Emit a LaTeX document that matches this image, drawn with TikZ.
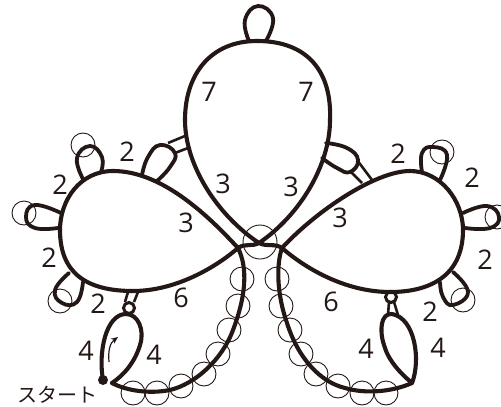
\documentclass[tikz,border=0pt]{standalone}
\usepackage{fontspec}
\setmainfont{Open Sans}
\newfontfamily\cjkfont{Noto Sans CJK JP}
\usetikzlibrary{arrows.meta}
\definecolor{threadcol}{HTML}{231815}
\begin{document}
\begin{tikzpicture}[
  x=1pt,y=-1pt,
  thread/.style={draw=threadcol,line width=4.1pt,line cap=round,line join=round},
  picot/.style={thread,line width=3.8pt},
  stem/.style={draw=threadcol,line width=2.6pt},
  bead/.style={circle,draw=threadcol,line width=0.9pt,minimum size=24pt,inner sep=0pt},
  count/.style={text=threadcol,inner sep=0pt,font=\fontsize{27}{27}\selectfont}]
\useasboundingbox (0,0) rectangle (501,407);
% beads
\foreach \x/\y [count=\i] in {133/393,157/393,181/386,204/374,218/354,229/330,238/306,242/279,
  277/279,281/306,290/330,301/354,316/374,338/386,362/393,386/393,
  83/145,24/213,60/301,442/152,497/217,463/300}
  \node[bead] (bead\i) at (\x,\y) {};
\node[bead,minimum size=34pt] (centre) at (260,242) {};
% main thread
\draw[thread] (112,383) .. controls (127,391) and (150,394) .. (170,390)
  .. controls (195,384) and (222,360) .. (233,330)
  .. controls (246,296) and (248,268) .. (238,248)
  .. controls (205,212) and (160,171) .. (113,171)
  .. controls (80,171) and (60,200) .. (60,230)
  .. controls (60,272) and (85,291) .. (133,291)
  .. controls (175,291) and (215,268) .. (238,248)
  .. controls (245,243) and (252,247) .. (259,243)
  .. controls (300,215) and (330,165) .. (330,120)
  .. controls (332,72) and (308,41) .. (257,41)
  .. controls (210,41) and (185,75) .. (185,120)
  .. controls (185,165) and (217,215) .. (259,243)
  .. controls (266,247) and (275,243) .. (282,248)
  .. controls (305,268) and (345,292) .. (390,292)
  .. controls (435,292) and (463,272) .. (463,230)
  .. controls (463,200) and (440,171) .. (410,171)
  .. controls (375,171) and (315,212) .. (282,248)
  .. controls (276,265) and (277,295) .. (287,323)
  .. controls (298,358) and (320,382) .. (345,388)
  .. controls (365,394) and (392,392) .. (412,383);
% rings at the start and the end
\draw[thread] (103,380) .. controls (98,352) and (106,314) .. (126,314)
  .. controls (138,314) and (145,330) .. (140,345)
  .. controls (135,362) and (124,375) .. (112,383);
\draw[thread] (412,383) .. controls (421,360) and (415,318) .. (392,314)
  .. controls (381,313) and (379,330) .. (384,345)
  .. controls (388,360) and (400,373) .. (412,383);
\node[circle,fill=threadcol,minimum size=10pt,inner sep=0pt] (startdot) at (103,380) {};
% picots
\draw[picot] plot[smooth,tension=0.8] coordinates {(249,41) (245,20) (258,6) (273,18) (266,41)};
\draw[picot] plot[smooth,tension=0.8] coordinates {(142,175) (148,157) (160,145) (175,153) (170,167) (157,181)};
\draw[picot] plot[smooth,tension=0.8] coordinates {(83,179) (77,158) (90,146) (102,157) (101,172)};
\draw[picot] plot[smooth,tension=0.8] coordinates {(61,213) (35,205) (26,217) (35,228) (58,228)};
\draw[picot] plot[smooth,tension=0.8] coordinates {(69,273) (55,290) (62,303) (77,302) (83,282)};
\draw[picot] plot[smooth,tension=0.8] coordinates {(326,143) (347,148) (358,160) (350,172) (337,168) (322,158)};
\draw[picot] plot[smooth,tension=0.8] coordinates {(422,172) (422,153) (433,147) (447,155) (440,180)};
\draw[picot] plot[smooth,tension=0.8] coordinates {(463,213) (487,206) (499,217) (490,228) (465,228)};
\draw[picot] plot[smooth,tension=0.8] coordinates {(453,272) (468,292) (453,305) (443,297) (440,282)};
% stems
\draw[stem] (168,143) -- (185,136);
\draw[stem] (175,153) -- (188,148);
\draw[stem] (357,160) -- (372,180);
\draw[stem] (351,172) -- (362,183);
\draw[stem] (125,302) -- (128,292);
\draw[stem] (134,302) -- (138,292);
\draw[stem] (388,315) -- (389,302);
\draw[stem] (398,315) -- (394,302);
\node[circle,draw=threadcol,line width=3pt,minimum size=11pt,inner sep=0pt] (smallL) at (129,308) {};
\node[circle,draw=threadcol,line width=3pt,minimum size=11pt,inner sep=0pt] (smallR) at (391,297) {};
% direction arrow
\draw[draw=threadcol,line width=1.2pt,-{Stealth[length=7pt,width=6pt]}] (109,362) .. controls (108,350) and (110,343) .. (118,337);
% counts
\node[count] (c1) at (209,92) {7};
\node[count] (c2) at (306,92) {7};
\node[count] (c3) at (127,152) {2};
\node[count] (c4) at (60,185) {2};
\node[count] (c5) at (49,258) {2};
\node[count] (c6) at (98,304) {2};
\node[count] (c7) at (223,184) {3};
\node[count] (c8) at (186,223) {3};
\node[count] (c9) at (181,298) {6};
\node[count] (c10) at (86,351) {4};
\node[count] (c11) at (154,355) {4};
\node[count] (c12) at (291,187) {3};
\node[count] (c13) at (340,218) {3};
\node[count] (c14) at (398,154) {2};
\node[count] (c15) at (472,178) {2};
\node[count] (c16) at (485,260) {2};
\node[count] (c17) at (430,312) {2};
\node[count] (c18) at (331,302) {6};
\node[count] (c19) at (366,349) {4};
\node[count] (c20) at (438,348) {4};
\node[text=threadcol,inner sep=0pt,font=\cjkfont\fontsize{20}{20}\selectfont] (start) at (57,395) {スタート};
\end{tikzpicture}
\end{document}
